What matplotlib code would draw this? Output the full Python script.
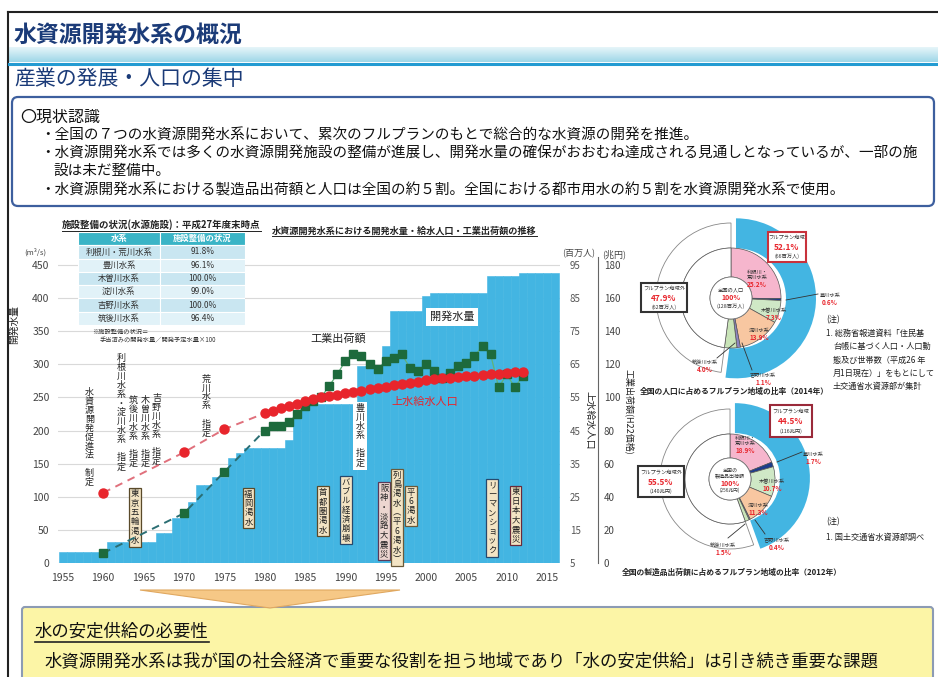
import numpy as np
import matplotlib
matplotlib.use('Agg')
import matplotlib.pyplot as plt
from matplotlib.patches import Rectangle, FancyBboxPatch, Polygon, Circle
from matplotlib.colors import LinearSegmentedColormap

plt.rcParams['font.family'] = ['Noto Sans CJK JP', 'DejaVu Sans']

# ---------------- data ----------------
years = list(range(1955, 2017))
# 開発水量 (m3/s)
dev_water = [17, 17, 17, 17, 17, 17,
             32, 32, 32, 32, 32, 32,
             45, 45, 68, 80, 92, 118, 118, 130, 130, 158, 166,
             174, 174, 174, 174, 174, 186, 227, 235,
             240, 240, 240, 240, 240, 240,
             298, 298, 298, 328, 381, 381, 381, 381, 403,
             407, 407, 407, 407, 407, 407, 407,
             433, 433, 433, 433,
             438, 438, 438, 438, 438]

# 上水給水人口 (百万人)
pop_years = [1960, 1970, 1975, 1980, 1981, 1982, 1983, 1984, 1985, 1986, 1987, 1988,
             1989, 1990, 1991, 1992, 1993, 1994, 1995, 1996, 1997, 1998, 1999, 2000,
             2001, 2002, 2003, 2004, 2005, 2006, 2007, 2008, 2009, 2010, 2011, 2012]
pop_vals = [26.2, 38.4, 45.4, 50.2, 51.0, 51.8, 52.4, 53.0, 53.8, 54.4, 55.0, 55.4,
            55.8, 56.2, 56.6, 57.0, 57.4, 57.8, 58.2, 58.6, 59.0, 59.4, 59.8, 60.4,
            60.6, 60.8, 61.0, 61.2, 61.4, 61.6, 61.8, 62.0, 62.2, 62.4, 62.6, 62.8]

# 工業出荷額 H22価格 (兆円)
ship_years = pop_years
ship_vals = [6, 30, 55, 80, 83, 83, 85, 90, 95, 98, 100, 107,
             114, 122, 126, 125, 120, 117, 122, 124, 126, 118, 116, 120,
             116, 112, 115, 119, 121, 125, 131, 126, 106, 114, 106, 113]

# 施設整備の状況
tbl_header = ['水系', '施設整備の状況']
tbl_systems = ['利根川・荒川水系', '豊川水系', '木曽川水系', '淀川水系', '吉野川水系', '筑後川水系']
tbl_rates = ['91.8%', '96.1%', '100.0%', '99.0%', '100.0%', '96.4%']

# events / designations (label, year, height m3/s)
laws = [('水資源開発促進法\u3000制定', 1958.3, 190),
        ('利根川水系・淀川水系\u3000指定', 1962.2, 227),
        ('筑後川水系\u3000指定', 1963.7, 198),
        ('木曽川水系\u3000指定', 1965.2, 198),
        ('吉野川水系\u3000指定', 1966.6, 201),
        ('荒川水系\u3000指定', 1972.8, 237)]
events = [('東京五輪渇水', 1963.9, 69),
          ('福岡渇水', 1978.0, 83),
          ('首都圏渇水', 1987.2, 78),
          ('バブル経済崩壊', 1990.1, 80),
          ('阪神・淡路大震災', 1994.8, 63),
          ('列島渇水︵平6渇水︶', 1996.4, 69),
          ('平6渇水', 1998.1, 86),
          ('リーマンショック', 2008.2, 68),
          ('東日本大震災', 2011.1, 72)]

# donut data
pie_systems = ['利根川・\n荒川水系', '豊川水系', '木曽川水系', '淀川水系', '吉野川水系', '筑後川水系']
pop_share = [25.2, 0.6, 7.3, 13.9, 1.1, 4.0]
pop_full, pop_out = 52.1, 47.9
ship_share = [18.9, 1.7, 10.7, 11.3, 0.4, 1.5]
ship_full, ship_out = 44.5, 55.5

BLUE = '#43b5e2'
RED = '#e8252c'
GREEN = '#1d6a3c'
NAVY = '#1b3b78'

W, H = 938, 677
fig = plt.figure(figsize=(W / 100, H / 100), dpi=100)


def fbox(x0, y0, x1, y1):
    return [x0 / W, 1 - y1 / H, (x1 - x0) / W, (y1 - y0) / H]


def vt(s):
    return '\n'.join(s)


def pix_axes(z):
    a = fig.add_axes([0, 0, 1, 1], zorder=z)
    a.set_xlim(0, W)
    a.set_ylim(H, 0)
    a.axis('off')
    return a


bg = pix_axes(0)
fg = pix_axes(10)

# frame, title band
bg.plot([8, W], [12, 12], color='#222', lw=1.5)
bg.plot([8, 8], [12, H], color='#222', lw=1.5)
cm = LinearSegmentedColormap.from_list('band', ['#e6f5f9', '#9fd7e8'])
bg.imshow(np.linspace(0, 1, 30).reshape(-1, 1), extent=(9, W, 62, 47), cmap=cm, aspect='auto')
bg.plot([9, W], [63.5, 63.5], color='#239bd2', lw=2.2)
bg.set_xlim(0, W)
bg.set_ylim(H, 0)
bg.text(14, 35, '水資源開発水系の概況', fontsize=16.5, weight='bold', color=NAVY, va='center')
bg.text(14, 79, '産業の発展・人口の集中', fontsize=15, color=NAVY, va='center')

# recognition box
bg.add_patch(FancyBboxPatch((12, 97), 922, 109, boxstyle='round,pad=0,rounding_size=6',
                            fc='white', ec='#3d5f9e', lw=1.6))
bg.text(20, 117, '〇現状認識', fontsize=11.5, va='center', color='#111')
bullets = [(40, 135, '・全国の７つの水資源開発水系において、累次のフルプランのもとで総合的な水資源の開発を推進。'),
           (40, 154, '・水資源開発水系では多くの水資源開発施設の整備が進展し、開発水量の確保がおおむね達成される見通しとなっているが、一部の施'),
           (53, 171, '設は未だ整備中。'),
           (40, 190, '・水資源開発水系における製造品出荷額と人口は全国の約５割。全国における都市用水の約５割を水資源開発水系で使用。')]
for x, y, s in bullets:
    bg.text(x, y, s, fontsize=10.5, va='center', color='#111')

# ---------------- main chart ----------------
ax = fig.add_axes(fbox(58, 257, 560, 563), zorder=2)
ax.bar(years, dev_water, width=1.0, color=BLUE, edgecolor=BLUE, lw=0.4, zorder=2)
ax.set_xlim(1954.4, 2016.6)
ax.set_ylim(0, 462)
ax.set_yticks(range(0, 451, 50))
ax.set_xticks(range(1955, 2016, 5))
ax.yaxis.grid(True, color='#d9d9d9', lw=0.8)
ax.set_axisbelow(True)
for sp in ax.spines.values():
    sp.set_visible(False)
ax.tick_params(length=0, labelsize=7.5, labelcolor='#444')
ax.tick_params(axis='y', pad=6)
ax.tick_params(axis='x', pad=7)

axs = ax.twinx()
axs.set_ylim(0, 184.8)
axs.set_yticks(range(0, 181, 20))
for k, sp in axs.spines.items():
    sp.set_visible(k == 'right')
axs.spines['right'].set_position(('outward', 27.4))
axs.spines['right'].set_color('#666')
axs.tick_params(axis='y', length=0, labelsize=7, labelcolor='#444', pad=4)
axs.plot(ship_years[:4], ship_vals[:4], ls=(0, (4, 3)), color='#2b6e73', lw=1.4)
axs.plot(ship_years[3:], ship_vals[3:], color='#5fb27a', lw=0.9)
axs.plot(ship_years, ship_vals, ls='none', marker='s', ms=5.5, color=GREEN)

axp = ax.twinx()
axp.set_ylim(5, 97.4)
axp.set_yticks(range(5, 96, 10))
for sp in axp.spines.values():
    sp.set_visible(False)
axp.tick_params(axis='y', length=0, labelsize=7, labelcolor='#555', pad=7)
axp.plot(pop_years[:4], pop_vals[:4], ls=(0, (4, 3)), color='#e0707c', lw=1.4)
axp.plot(pop_years, pop_vals, ls='none', marker='o', ms=6.5, color=RED)

for s, x, y in laws:
    ax.text(x, y, vt(s), fontsize=6.5, ha='center', va='center', linespacing=1.0, color='#222', zorder=3)
ax.text(1991.8, 192, vt('豊川水系\u3000指定'), fontsize=6.5, ha='center', va='center', linespacing=1.0,
        color='#222', zorder=3, bbox=dict(boxstyle='square,pad=0.25', fc='white', ec='none'))
ev_edges = ['#5a4a2a', '#5a4a2a', '#5a4a2a', '#27496d', '#5a3a5a', '#6a5a3a', '#6a5a3a', '#27496d', '#6a2a3a']
ev_faces = ['#f3e4c4', '#f3e4c4', '#f3e4c4', '#f3e4c4', '#ecd6d0', '#f3e4c4', '#f3e4c4', '#f3e4c4', '#f3e4c4']
for (s, x, y), ec, fc in zip(events, ev_edges, ev_faces):
    ax.text(x, y, vt(s), fontsize=6, ha='center', va='center', linespacing=1.05, color='#222', zorder=3,
            bbox=dict(boxstyle='square,pad=0.2', fc=fc, ec=ec, lw=0.9))

fg.text(338, 339, '工業出荷額', fontsize=8, ha='center', va='center', color='#222')
fg.text(425, 402, '上水給水人口', fontsize=8, ha='center', va='center', color=RED)
fg.text(452, 317, '開発水量', fontsize=8, ha='center', va='center', color='#222',
        bbox=dict(boxstyle='square,pad=0.35', fc='white', ec='none'))
fg.text(35, 252, '(m³/s)', fontsize=5.5, ha='center', va='center', color='#444')
fg.text(14, 325, '開発水量', rotation=90, fontsize=7, ha='center', va='center', color='#222')
fg.text(579, 254, '(百万人)', fontsize=6.5, ha='center', va='center', color='#444')
fg.text(614, 254, '(兆円)', fontsize=6.5, ha='center', va='center', color='#444')
fg.text(590, 420, '上水給水人口', rotation=270, fontsize=7, ha='center', va='center', color='#222')
fg.text(629, 412, '工業出荷額(H22価格)', rotation=270, fontsize=6.5, ha='center', va='center', color='#222')

t_chart = fg.text(272, 231, '水資源開発水系における開発水量・給水人口・工業出荷額の推移', fontsize=6.6,
                  weight='bold', va='center', color='#222')
t_tbl = fg.text(62, 225, '施設整備の状況(水源施設)：平成27年度末時点', fontsize=6.8, weight='bold',
                va='center', color='#222')

# table
ta = fig.add_axes(fbox(78, 232, 245, 325), zorder=5)
ta.set_xlim(0, 1)
ta.set_ylim(len(tbl_systems) + 1, 0)
ta.axis('off')
split = 0.49
for j, (x0, w) in enumerate([(0, split), (split, 1 - split)]):
    ta.add_patch(Rectangle((x0, 0), w, 1, fc='#3ab4c6', ec='white', lw=0.8))
    ta.text(x0 + w / 2, 0.5, tbl_header[j], fontsize=6, ha='center', va='center', color='white', weight='bold')
for i, (s, r) in enumerate(zip(tbl_systems, tbl_rates)):
    fc = '#c9e6f1' if i % 2 == 0 else '#e1f2f8'
    ta.add_patch(Rectangle((0, i + 1), split, 1, fc=fc, ec='white', lw=0.8))
    ta.add_patch(Rectangle((split, i + 1), 1 - split, 1, fc=fc, ec='white', lw=0.8))
    ta.text(split / 2, i + 1.5, s, fontsize=6, ha='center', va='center', color='#333')
    ta.text(split + (1 - split) / 2, i + 1.5, r, fontsize=6, ha='center', va='center', color='#333')
fg.text(92, 332, '※施設整備の状況＝', fontsize=4.5, va='center', color='#333')
fg.text(100, 340, '手当済みの開発水量／開発予定水量×100', fontsize=4.5, va='center', color='#333')

# ---------------- donuts ----------------
inner_cols = ['#f6b6cd', '#1e3c8c', '#cfe8c6', '#f8c7a1', '#8d84c0', '#c9e4b8']


def donut(bx, shares, full, out, r_in, w_in, r_white, r_blue):
    pa = fig.add_axes(fbox(*bx), zorder=4)
    wb, _ = pa.pie([full, out], radius=r_blue, colors=[BLUE, 'white'], explode=[0.1, 0],
                   startangle=90, counterclock=False, wedgeprops=dict(width=r_blue - r_in, lw=0))
    wb[1].set_facecolor('none')
    ww, _ = pa.pie([full, out], radius=r_white, colors=['white', 'white'], startangle=90,
                   counterclock=False, wedgeprops=dict(width=r_white - r_in, ec='#888', lw=0.6))
    ww[0].set_visible(False)
    pa.pie(shares + [out], radius=r_in, colors=inner_cols + ['white'], startangle=90,
           counterclock=False, wedgeprops=dict(width=w_in, ec='#555', lw=0.5))
    pa.add_patch(Circle((0, 0), 0.42, fc='white', ec='#777', lw=0.6))
    pa.set_xlim(-1.8, 1.8)
    pa.set_ylim(-1.8, 1.8)
    pa.set_aspect('equal')
    pa.axis('off')


donut((641, 208, 821, 388), pop_share, pop_full, pop_out, 1.0, 0.58, 1.5, 1.6)
donut((640, 389, 820, 569), ship_share, ship_full, ship_out, 0.9, 0.48, 1.4, 1.5)


def label_box(x0, y0, w, h, ec, lines):
    fg.add_patch(Rectangle((x0, y0), w, h, fc='white', ec=ec, lw=1.5))
    cx = x0 + w / 2
    ys = [y0 + h * 0.22, y0 + h * 0.52, y0 + h * 0.82]
    for (s, fs, col, wt), y in zip(lines, ys):
        fg.text(cx, y, s, fontsize=fs, ha='center', va='center', color=col, weight=wt)


def wl(x, y, name, val, fs=3.8):
    fg.text(x, y, name, fontsize=fs, ha='center', va='bottom', color='#333', linespacing=1.1)
    fg.text(x, y + 1, f'{val:.1f}%', fontsize=4.6, ha='center', va='top', color=RED, weight='bold')


label_box(768, 232, 38, 30, '#c8323c', [('フルプラン地域', 3.8, '#333', 'normal'),
                                        (f'{pop_full}%', 6, RED, 'bold'),
                                        ('(66百万人)', 3.8, '#333', 'normal')])
label_box(641, 283, 46, 29, '#333', [('フルプラン地域外', 3.8, '#333', 'normal'),
                                     (f'{pop_out}%', 6, RED, 'bold'),
                                     ('(62百万人)', 3.8, '#333', 'normal')])
fg.text(731, 290, '全国の人口', fontsize=3.8, ha='center', va='center', color='#333')
fg.text(731, 298, '100%', fontsize=5, ha='center', va='center', color=RED, weight='bold')
fg.text(731, 306, '(128百万人)', fontsize=3.8, ha='center', va='center', color='#333')
wl(757, 280, pie_systems[0], pop_share[0])
wl(830, 298, pie_systems[1], pop_share[1])
wl(774, 313, pie_systems[2], pop_share[2])
wl(759, 333, pie_systems[3], pop_share[3])
wl(763, 378, pie_systems[4], pop_share[4])
wl(705, 365, pie_systems[5], pop_share[5])
fg.plot([786, 818], [300, 294], color='#333', lw=0.6)
fg.plot([717, 735], [358, 343], color='#333', lw=0.6)
fg.plot([752, 742], [370, 343], color='#333', lw=0.6)

label_box(770, 405, 42, 32, '#9a2a3a', [('フルプラン地域', 3.8, '#333', 'normal'),
                                        (f'{ship_full}%', 6, RED, 'bold'),
                                        ('(116兆円)', 3.8, '#333', 'normal')])
label_box(638, 466, 46, 31, '#333', [('フルプラン地域外', 3.8, '#333', 'normal'),
                                     (f'{ship_out}%', 6, RED, 'bold'),
                                     ('(140兆円)', 3.8, '#333', 'normal')])
fg.text(730, 470, '全国の', fontsize=3.6, ha='center', va='center', color='#333')
fg.text(730, 476, '製造品出荷額', fontsize=3.6, ha='center', va='center', color='#333')
fg.text(730, 483, '100%', fontsize=5, ha='center', va='center', color=RED, weight='bold')
fg.text(730, 490, '(256兆円)', fontsize=3.4, ha='center', va='center', color='#333')
wl(745, 446, pie_systems[0], ship_share[0])
wl(813, 457, pie_systems[1], ship_share[1])
wl(772, 484, pie_systems[2], ship_share[2])
wl(758, 508, pie_systems[3], ship_share[3])
wl(777, 543, pie_systems[4], ship_share[4])
wl(723, 548, pie_systems[5], ship_share[5])
fg.plot([777, 802], [462, 452], color='#333', lw=0.6)
fg.plot([728, 745], [538, 524], color='#333', lw=0.6)
fg.plot([765, 755], [534, 520], color='#333', lw=0.6)

fg.text(640, 391, '全国の人口に占めるフルプラン地域の比率（2014年）', fontsize=5.6, weight='bold',
        va='center', color='#222')
fg.text(622, 572, '全国の製造品出荷額に占めるフルプラン地域の比率（2012年）', fontsize=5.6, weight='bold',
        va='center', color='#222')

# notes (right-hand text runs off the slide edge as in the source)
notes1 = [(826, '(注)'), (826, '1. 総務省報道資料「住民基'), (833, '台帳に基づく人口・人口動'),
          (833, '態及び世帯数（平成26 年'), (833, '月1日現在）」をもとにして'), (833, '土交通省水資源部が集計')]
for i, (x, s) in enumerate(notes1):
    fg.text(x, 320 + i * 13.3, s, fontsize=5.9, va='center', color='#222')
fg.text(826, 522, '(注)', fontsize=5.9, va='center', color='#222')
fg.text(826, 537, '1. 国土交通省水資源部調べ', fontsize=5.9, va='center', color='#222')

# ---------------- bottom ----------------
bg.add_patch(FancyBboxPatch((22, 607), 911, 80, boxstyle='round,pad=0,rounding_size=3',
                            fc='#fcf5a6', ec='#8c9bb4', lw=1.5))
bg.add_patch(Polygon([(140, 590), (400, 590), (270, 608)], closed=True, fc='#f6c886', ec='#e0a860', lw=0.8))
t_need = bg.text(35, 632, '水の安定供給の必要性', fontsize=12.5, va='center', color='#111')
bg.text(45, 661, '水資源開発水系は我が国の社会経済で重要な役割を担う地域であり「水の安定供給」は引き続き重要な課題',
        fontsize=12.5, va='center', color='#111')

# underlines
fig.canvas.draw()
r = fig.canvas.get_renderer()
for t, lw in [(t_chart, 0.7), (t_tbl, 0.7), (t_need, 1.2)]:
    bb = t.get_window_extent(r)
    fg.plot([bb.x0, bb.x1], [H - bb.y0 + 0.5] * 2, color='#222', lw=lw)

fig.savefig('out.png', dpi=100)
